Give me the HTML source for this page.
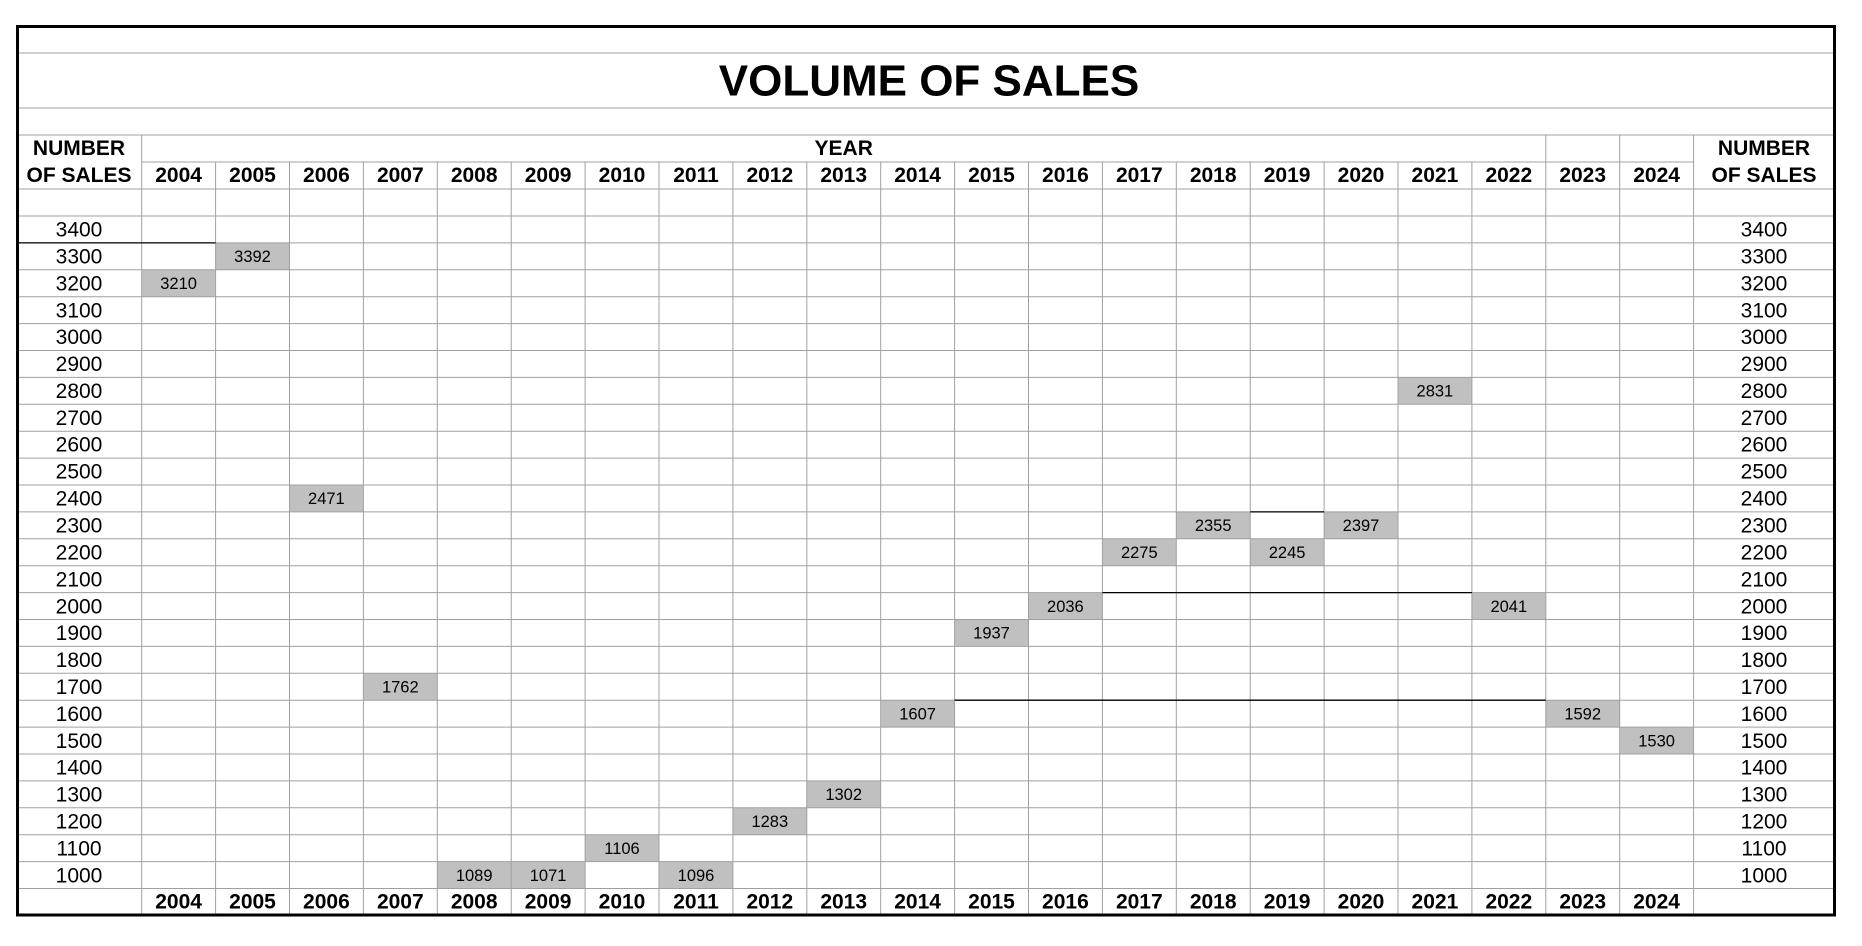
<!DOCTYPE html>
<html><head><meta charset="utf-8"><style>
html,body{margin:0;padding:0;background:#fff;width:1862px;height:946px;overflow:hidden}
svg{display:block}
text{font-family:"Liberation Sans",Arial,sans-serif;fill:#000;text-anchor:middle;dominant-baseline:central}
.b{font-weight:bold;font-size:21px}
.n{font-size:21px}
.v{font-size:16.5px}
</style></head><body>
<svg width="1862" height="946" viewBox="0 0 1862 946" xmlns="http://www.w3.org/2000/svg">
<rect width="1862" height="946" fill="#fff"/>
<!-- gray cells -->
<g fill="#c0c0c0">
<rect x="141.7" y="269.8" width="73.9" height="26.9"/>
<rect x="215.6" y="242.9" width="73.9" height="26.9"/>
<rect x="289.5" y="485" width="73.9" height="26.9"/>
<rect x="363.4" y="673.3" width="73.9" height="26.9"/>
<rect x="437.3" y="861.6" width="73.9" height="26.9"/>
<rect x="511.2" y="861.6" width="73.9" height="26.9"/>
<rect x="585.1" y="834.7" width="73.9" height="26.9"/>
<rect x="659" y="861.6" width="73.9" height="26.9"/>
<rect x="732.9" y="807.8" width="73.9" height="26.9"/>
<rect x="806.8" y="780.9" width="73.9" height="26.9"/>
<rect x="880.7" y="700.2" width="73.9" height="26.9"/>
<rect x="954.6" y="619.5" width="73.9" height="26.9"/>
<rect x="1028.5" y="592.6" width="73.9" height="26.9"/>
<rect x="1102.4" y="538.8" width="73.9" height="26.9"/>
<rect x="1176.3" y="511.9" width="73.9" height="26.9"/>
<rect x="1250.2" y="538.8" width="73.9" height="26.9"/>
<rect x="1324.1" y="511.9" width="73.9" height="26.9"/>
<rect x="1398" y="377.4" width="73.9" height="26.9"/>
<rect x="1471.9" y="592.6" width="73.9" height="26.9"/>
<rect x="1545.8" y="700.2" width="73.9" height="26.9"/>
<rect x="1619.7" y="727.1" width="73.9" height="26.9"/>
</g>
<!-- horizontal grid -->
<g stroke="#a0a0a0" stroke-width="1">
<line x1="17" x2="1835" y1="53" y2="53"/>
<line x1="17" x2="1835" y1="108" y2="108"/>
<line x1="17" x2="1835" y1="135" y2="135"/>
<line x1="141.7" x2="1693.6" y1="162" y2="162"/>
<line x1="17" x2="1835" y1="189" y2="189"/>
<line x1="17" x2="1835" y1="216" y2="216"/>
<line x1="17" x2="1835" y1="242.9" y2="242.9"/>
<line x1="17" x2="1835" y1="269.8" y2="269.8"/>
<line x1="17" x2="1835" y1="296.7" y2="296.7"/>
<line x1="17" x2="1835" y1="323.6" y2="323.6"/>
<line x1="17" x2="1835" y1="350.5" y2="350.5"/>
<line x1="17" x2="1835" y1="377.4" y2="377.4"/>
<line x1="17" x2="1835" y1="404.3" y2="404.3"/>
<line x1="17" x2="1835" y1="431.2" y2="431.2"/>
<line x1="17" x2="1835" y1="458.1" y2="458.1"/>
<line x1="17" x2="1835" y1="485" y2="485"/>
<line x1="17" x2="1835" y1="511.9" y2="511.9"/>
<line x1="17" x2="1835" y1="538.8" y2="538.8"/>
<line x1="17" x2="1835" y1="565.7" y2="565.7"/>
<line x1="17" x2="1835" y1="592.6" y2="592.6"/>
<line x1="17" x2="1835" y1="619.5" y2="619.5"/>
<line x1="17" x2="1835" y1="646.4" y2="646.4"/>
<line x1="17" x2="1835" y1="673.3" y2="673.3"/>
<line x1="17" x2="1835" y1="700.2" y2="700.2"/>
<line x1="17" x2="1835" y1="727.1" y2="727.1"/>
<line x1="17" x2="1835" y1="754" y2="754"/>
<line x1="17" x2="1835" y1="780.9" y2="780.9"/>
<line x1="17" x2="1835" y1="807.8" y2="807.8"/>
<line x1="17" x2="1835" y1="834.7" y2="834.7"/>
<line x1="17" x2="1835" y1="861.6" y2="861.6"/>
<line x1="17" x2="1835" y1="888.5" y2="888.5"/>
</g>
<!-- vertical grid -->
<g stroke="#a0a0a0" stroke-width="1">
<line x1="141.7" x2="141.7" y1="135" y2="915"/>
<line x1="215.6" x2="215.6" y1="162" y2="915"/>
<line x1="289.5" x2="289.5" y1="162" y2="915"/>
<line x1="363.4" x2="363.4" y1="162" y2="915"/>
<line x1="437.3" x2="437.3" y1="162" y2="915"/>
<line x1="511.2" x2="511.2" y1="162" y2="915"/>
<line x1="585.1" x2="585.1" y1="162" y2="915"/>
<line x1="659" x2="659" y1="162" y2="915"/>
<line x1="732.9" x2="732.9" y1="162" y2="915"/>
<line x1="806.8" x2="806.8" y1="162" y2="915"/>
<line x1="880.7" x2="880.7" y1="162" y2="915"/>
<line x1="954.6" x2="954.6" y1="162" y2="915"/>
<line x1="1028.5" x2="1028.5" y1="162" y2="915"/>
<line x1="1102.4" x2="1102.4" y1="162" y2="915"/>
<line x1="1176.3" x2="1176.3" y1="162" y2="915"/>
<line x1="1250.2" x2="1250.2" y1="162" y2="915"/>
<line x1="1324.1" x2="1324.1" y1="162" y2="915"/>
<line x1="1398" x2="1398" y1="162" y2="915"/>
<line x1="1471.9" x2="1471.9" y1="162" y2="915"/>
<line x1="1545.8" x2="1545.8" y1="135" y2="915"/>
<line x1="1619.7" x2="1619.7" y1="135" y2="915"/>
<line x1="1693.6" x2="1693.6" y1="135" y2="915"/>
</g>
<!-- black accent lines -->
<g stroke="#000" stroke-width="1.3">
<line x1="17" x2="215.6" y1="242.9" y2="242.9"/>
<line x1="1250.2" x2="1324.1" y1="511.9" y2="511.9"/>
<line x1="1102.4" x2="1471.9" y1="592.6" y2="592.6"/>
<line x1="954.6" x2="1545.8" y1="700.2" y2="700.2"/>
</g>
<!-- outer border -->
<rect x="17.5" y="26.5" width="1817" height="888.5" fill="none" stroke="#000" stroke-width="3"/>

<text x="929" y="81" style="font-weight:bold;font-size:44px">VOLUME OF SALES</text>
<text class="b" x="79" y="148.5">NUMBER</text>
<text class="b" x="79" y="175.5">OF SALES</text>
<text class="b" x="1764" y="148.5">NUMBER</text>
<text class="b" x="1764" y="175.5">OF SALES</text>
<text class="b" x="843.7" y="148.5">YEAR</text>

<g class="b">
<text x="178.6" y="175.5">2004</text><text x="252.5" y="175.5">2005</text><text x="326.4" y="175.5">2006</text><text x="400.3" y="175.5">2007</text><text x="474.2" y="175.5">2008</text><text x="548.1" y="175.5">2009</text><text x="622" y="175.5">2010</text><text x="696" y="175.5">2011</text><text x="769.8" y="175.5">2012</text><text x="843.7" y="175.5">2013</text><text x="917.6" y="175.5">2014</text><text x="991.5" y="175.5">2015</text><text x="1065.4" y="175.5">2016</text><text x="1139.3" y="175.5">2017</text><text x="1213.2" y="175.5">2018</text><text x="1287.1" y="175.5">2019</text><text x="1361" y="175.5">2020</text><text x="1434.9" y="175.5">2021</text><text x="1508.8" y="175.5">2022</text><text x="1582.7" y="175.5">2023</text><text x="1656.6" y="175.5">2024</text>
<text x="178.6" y="902">2004</text><text x="252.5" y="902">2005</text><text x="326.4" y="902">2006</text><text x="400.3" y="902">2007</text><text x="474.2" y="902">2008</text><text x="548.1" y="902">2009</text><text x="622" y="902">2010</text><text x="696" y="902">2011</text><text x="769.8" y="902">2012</text><text x="843.7" y="902">2013</text><text x="917.6" y="902">2014</text><text x="991.5" y="902">2015</text><text x="1065.4" y="902">2016</text><text x="1139.3" y="902">2017</text><text x="1213.2" y="902">2018</text><text x="1287.1" y="902">2019</text><text x="1361" y="902">2020</text><text x="1434.9" y="902">2021</text><text x="1508.8" y="902">2022</text><text x="1582.7" y="902">2023</text><text x="1656.6" y="902">2024</text>
</g>

<g class="n">
<text x="79" y="230">3400</text><text x="79" y="257">3300</text><text x="79" y="284">3200</text><text x="79" y="311">3100</text><text x="79" y="337.5">3000</text><text x="79" y="364.5">2900</text><text x="79" y="391.5">2800</text><text x="79" y="418.5">2700</text><text x="79" y="445">2600</text><text x="79" y="472">2500</text><text x="79" y="499">2400</text><text x="79" y="526">2300</text><text x="79" y="553">2200</text><text x="79" y="580">2100</text><text x="79" y="607">2000</text><text x="79" y="633.5">1900</text><text x="79" y="660.5">1800</text><text x="79" y="687.5">1700</text><text x="79" y="714.5">1600</text><text x="79" y="741.5">1500</text><text x="79" y="768">1400</text><text x="79" y="795">1300</text><text x="79" y="822">1200</text><text x="79" y="849">1100</text><text x="79" y="876">1000</text>
<text x="1764" y="230">3400</text><text x="1764" y="257">3300</text><text x="1764" y="284">3200</text><text x="1764" y="311">3100</text><text x="1764" y="337.5">3000</text><text x="1764" y="364.5">2900</text><text x="1764" y="391.5">2800</text><text x="1764" y="418.5">2700</text><text x="1764" y="445">2600</text><text x="1764" y="472">2500</text><text x="1764" y="499">2400</text><text x="1764" y="526">2300</text><text x="1764" y="553">2200</text><text x="1764" y="580">2100</text><text x="1764" y="607">2000</text><text x="1764" y="633.5">1900</text><text x="1764" y="660.5">1800</text><text x="1764" y="687.5">1700</text><text x="1764" y="714.5">1600</text><text x="1764" y="741.5">1500</text><text x="1764" y="768">1400</text><text x="1764" y="795">1300</text><text x="1764" y="822">1200</text><text x="1764" y="849">1100</text><text x="1764" y="876">1000</text>
</g>

<g class="v">
<text x="178.6" y="284">3210</text>
<text x="252.5" y="257">3392</text>
<text x="326.4" y="499">2471</text>
<text x="400.3" y="687.5">1762</text>
<text x="474.2" y="876">1089</text>
<text x="548.1" y="876">1071</text>
<text x="622" y="849">1106</text>
<text x="696" y="876">1096</text>
<text x="769.8" y="822">1283</text>
<text x="843.7" y="795">1302</text>
<text x="917.6" y="714.5">1607</text>
<text x="991.5" y="633.5">1937</text>
<text x="1065.4" y="607">2036</text>
<text x="1139.3" y="553">2275</text>
<text x="1213.2" y="526">2355</text>
<text x="1287.1" y="553">2245</text>
<text x="1361" y="526">2397</text>
<text x="1434.9" y="391.5">2831</text>
<text x="1508.8" y="607">2041</text>
<text x="1582.7" y="714.5">1592</text>
<text x="1656.6" y="741.5">1530</text>
</g>
</svg>
</body></html>
